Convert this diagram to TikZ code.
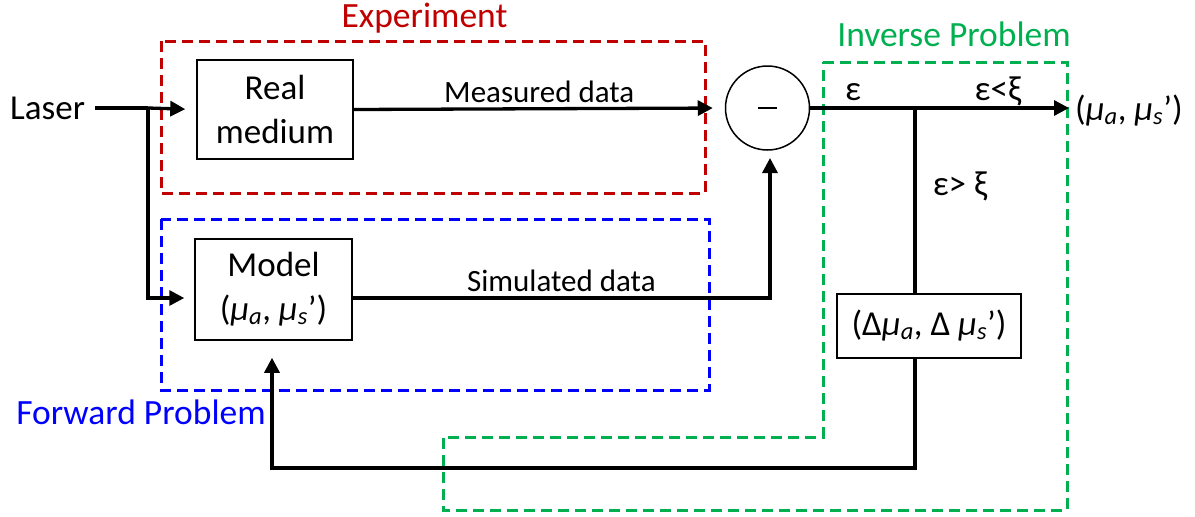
\documentclass[tikz,border=0pt]{standalone}
\usepackage{fontspec}
\setmainfont{Carlito}
\usetikzlibrary{arrows.meta,positioning,calc}
\definecolor{expred}{RGB}{192,0,0}
\definecolor{fwdblue}{RGB}{0,0,255}
\definecolor{invgreen}{RGB}{0,176,80}

\begin{document}
\begin{tikzpicture}[x=1pt, y=-1pt,
    blk/.style={draw, line width=1.5pt, align=center, inner sep=0pt, font=\fontsize{35}{44}\selectfont},
    flow/.style={line width=3.3pt, -{Triangle[length=15pt,width=15pt]}},
    wire/.style={line width=3.3pt},
    zone/.style={line width=3pt, dash pattern=on 11pt off 6pt},
    ttl/.style={font=\fontsize{35.5}{40}\selectfont},
    lbl/.style={font=\fontsize{35}{40}\selectfont},
    datalbl/.style={font=\fontsize{31}{36}\selectfont}]
    \useasboundingbox (0,0) rectangle (1195,517);

    % Dashed regions
    \draw[zone, expred] (161,41) rectangle (705,193);
    \node[ttl, expred] (exptitle) at (424.5,18) {Experiment};
    \draw[zone, fwdblue] (161,219) rectangle (709,390);
    \node[ttl, fwdblue] (fwdtitle) at (141,412) {Forward Problem};
    \draw[zone, invgreen] (823,62) -- (1067,62) -- (1067,510) -- (443,510) -- (443,437) -- (823,437) -- cycle;
    \node[ttl, invgreen] (invtitle) at (954,34) {Inverse Problem};

    % Blocks
    \node[lbl, anchor=west, inner sep=0pt] (laser) at (10,108) {Laser};
    \node[blk, minimum width=156, minimum height=99] (real) at (275,109.5) {Real\\medium};
    \node[blk, minimum width=157, minimum height=101] (model) at (273.5,289.5)
        {Model\\(\textit{μ}\textsubscript{\textit{a}}, \textit{μ}\textsubscript{\textit{s}}’)};
    \node[draw, circle, line width=1.5pt, minimum size=84, inner sep=0pt] (diff) at (767.5,108) {\rule[-0.8pt]{19pt}{1.6pt}};
    \node[blk, minimum width=184, minimum height=64] (delta) at (929,326)
        {(Δ\textit{μ}\textsubscript{\textit{a}}, Δ \textit{μ}\textsubscript{\textit{s}}’)};
    \node[lbl, anchor=west, inner sep=0pt] (est) at (1075,111)
        {(\textit{μ}\textsubscript{\textit{a}}, \textit{μ}\textsubscript{\textit{s}}’)};

    % Junctions
    \coordinate (lasend) at (95,108);
    \coordinate (split) at (148,108);
    \coordinate (simbend) at (770,298);
    \coordinate (simtop) at (770,150);
    \coordinate (tee) at (915,108);
    \coordinate (outtip) at (1069,108);
    \coordinate (fbr) at (915,468);
    \coordinate (fbl) at (272,468);

    % Laser to both blocks
    \draw[wire] (lasend) -- (split);
    \draw[flow, shorten >=11pt] (split) -- (real.west);
    \draw[flow, shorten >=10pt] (split) |- (model.west |- simbend);

    % Data to comparator
    \draw[flow, shorten >=12pt] (real.east) -- node[datalbl, above=1pt] {Measured data} (diff.west);
    \draw[flow, shorten >=8pt] (model.east |- simbend) -- node[datalbl, above=1pt] {Simulated data} (simbend) -- (simtop);

    % Error test
    \draw[flow] (diff.east) -- (outtip);
    \node[lbl] (eps) at (853,92) {ε};
    \node[lbl] (conv) at (998,91) {ε<ξ};
    \draw[wire] (tee) -- (delta.north -| tee);
    \node[lbl] (noconv) at (960,186) {ε> ξ};

    % Feedback
    \draw[flow] (delta.south -| tee) -- (fbr) -- (fbl) -- ($(model.south)+(-1.5,17)$);
\end{tikzpicture}
\end{document}
